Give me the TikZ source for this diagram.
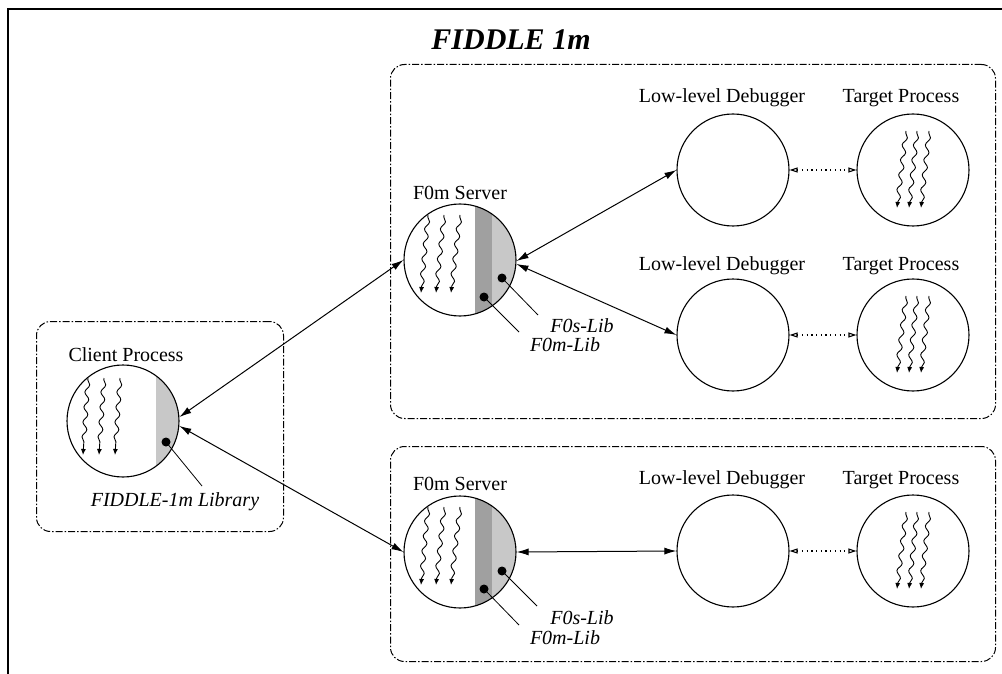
\documentclass[tikz,border=0pt]{standalone}
\usepackage{fontspec}
\setmainfont{Liberation Serif}
\usetikzlibrary{arrows.meta,decorations.pathmorphing}
\definecolor{lightg}{RGB}{200,200,200}
\definecolor{darkg}{RGB}{160,160,160}
\begin{document}
\begin{tikzpicture}[x=1pt,y=-1pt,
  lab/.style={font=\fontsize{20}{22}\selectfont, inner sep=0pt},
  ilab/.style={font=\fontsize{20}{22}\selectfont\itshape, inner sep=0pt, text height=14pt, text depth=0pt},
  proc/.style={circle, draw, line width=1.1pt, minimum size=112pt, inner sep=0pt},
  grp/.style={draw, line width=1pt, rounded corners=14pt, inner sep=0pt, anchor=north west,
              dash pattern=on 7pt off 2pt on 1.5pt off 2pt},
  dotm/.style={circle, fill, inner sep=0pt, minimum size=9pt},
  lead/.style={line width=0.8pt},
  biarrow/.style={line width=1pt, {Latex[length=12pt,width=7pt]}-{Latex[length=12pt,width=7pt]}},
  ctl/.style={line width=1.1pt, dash pattern=on 1.2pt off 3.5pt, {Triangle[open,length=8pt,width=5pt]}-{Triangle[open,length=8pt,width=5pt]}},
  thread/.style={line width=0.9pt, -{Latex[length=6pt,width=5pt]}, decorate,
                 decoration={snake, amplitude=2.2pt, segment length=15pt, pre length=2pt, post length=6pt}},
]
\useasboundingbox (0,0) rectangle (1002,674);
\clip (0,0) rectangle (1002,674);
\draw[line width=1.2pt] (8,9) rectangle (1020,700);

% title
\node[font=\fontsize{30}{32}\selectfont\bfseries\itshape, inner sep=0pt] (title) at (511,40) {FIDDLE 1m};

% group boxes
\node[grp, minimum width=605pt, minimum height=354pt] (box1) at (390,64) {};
\node[grp, minimum width=605pt, minimum height=215pt] (box2) at (390,446) {};
\node[grp, minimum width=247pt, minimum height=210pt] (box3) at (36,321) {};

% shading
\begin{scope}
  \clip (123,421) circle[radius=56pt];
  \fill[lightg] (156,360) rectangle (185,480);
\end{scope}
\begin{scope}
  \clip (460,260) circle[radius=56pt];
  \fill[darkg] (475,200) rectangle (492,320);
  \fill[lightg] (492,200) rectangle (520,320);
\end{scope}
\begin{scope}
  \clip (460,552) circle[radius=56pt];
  \fill[darkg] (475,490) rectangle (492,612);
  \fill[lightg] (492,490) rectangle (520,612);
\end{scope}

% process circles
\node[proc] (cli) at (123,421) {};
\node[proc] (srv1) at (460,260) {};
\node[proc] (srv2) at (460,552) {};
\node[proc] (lld1) at (733,170) {};
\node[proc] (tgt1) at (913,170) {};
\node[proc] (lld2) at (733,335) {};
\node[proc] (tgt2) at (913,335) {};
\node[proc] (lld3) at (733,551) {};
\node[proc] (tgt3) at (913,551) {};

% labels
\node[lab] (lcli) at (126,355) {Client Process};
\node[ilab] (llib) at (175,499) {FIDDLE-1m Library};
\node[lab] (lsrv1) at (460,193) {F0m Server};
\node[lab] (lsrv2) at (460,484) {F0m Server};
\node[lab] (llld1) at (722,98) {Low-level Debugger};
\node[lab] (ltgt1) at (901,98) {Target Process};
\node[lab] (llld2) at (722,266) {Low-level Debugger};
\node[lab] (ltgt2) at (901,266) {Target Process};
\node[lab] (llld3) at (722,480) {Low-level Debugger};
\node[lab] (ltgt3) at (901,480) {Target Process};
\node[ilab] (fs1) at (582,325) {F0s-Lib};
\node[ilab] (fm1) at (565,344) {F0m-Lib};
\node[ilab] (fs2) at (582,617) {F0s-Lib};
\node[ilab] (fm2) at (565,637) {F0m-Lib};

% library dots and leader lines
\node[dotm] (dcli) at (166,442) {};
\coordinate (ecli) at (202,486);
\draw[lead] (dcli.center) -- (ecli);
\node[dotm] (ds1) at (502,278) {};
\node[dotm] (dm1) at (484,297) {};
\coordinate (es1) at (538,315);
\coordinate (em1) at (519,332);
\draw[lead] (ds1.center) -- (es1);
\draw[lead] (dm1.center) -- (em1);
\node[dotm] (ds2) at (502,571) {};
\node[dotm] (dm2) at (484,589) {};
\coordinate (es2) at (537,606);
\coordinate (em2) at (519,625);
\draw[lead] (ds2.center) -- (es2);
\draw[lead] (dm2.center) -- (em2);

% threads
\foreach \a/\b in {88/83, 104/99, 120/115}
  \draw[thread] (\a,378) -- (\b,455);
\foreach \cy in {260,552}{
  \foreach \a/\b in {428/421, 444/436, 460/451}
    \draw[thread] (\a,\cy-45) -- (\b,\cy+33);
}
\foreach \cy in {170,335,551}{
  \foreach \a/\b in {906/897, 917/909, 929/921}
    \draw[thread] (\a,\cy-39) -- (\b,\cy+38);
}

% connectors
\draw[biarrow] (cli.4) -- (srv1.west);
\draw[biarrow] (cli.-5) -- (srv2.west);
\draw[biarrow] (srv1.-1) -- (lld1.west);
\draw[biarrow] (srv1.-4) -- (lld2.west);
\draw[biarrow] (srv2.east) -- (lld3.west);
\draw[ctl] (lld1.east) -- (tgt1.west);
\draw[ctl] (lld2.east) -- (tgt2.west);
\draw[ctl] (lld3.east) -- (tgt3.west);
\end{tikzpicture}
\end{document}
